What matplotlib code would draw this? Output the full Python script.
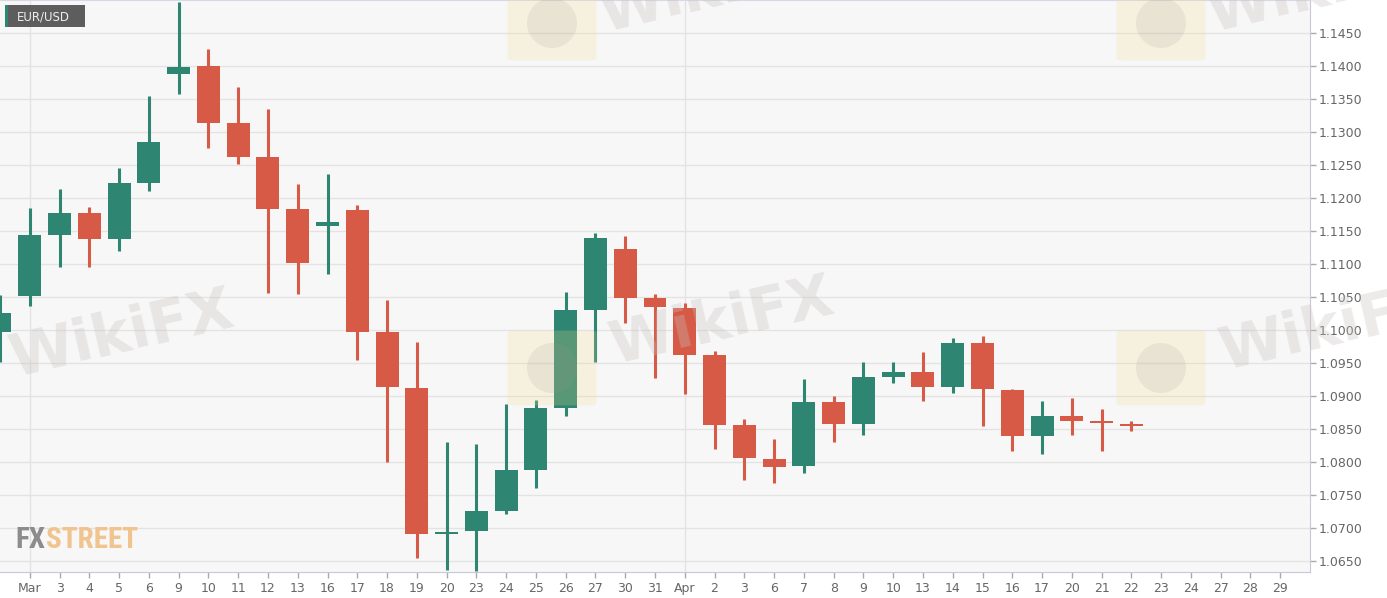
import matplotlib
matplotlib.use("Agg")
import matplotlib.pyplot as plt
from matplotlib.patches import FancyBboxPatch, Rectangle, Ellipse

# EUR/USD daily candles, 28 Feb - 22 Apr
day_labels = ["", "Mar", "3", "4", "5", "6", "9", "10", "11", "12", "13", "16", "17", "18",
              "19", "20", "23", "24", "25", "26", "27", "30", "31", "Apr", "2", "3", "6",
              "7", "8", "9", "10", "13", "14", "15", "16", "17", "20", "21", "22", "23",
              "24", "27", "28", "29"]
opens = [1.0997, 1.1052, 1.1144, 1.1177, 1.1138, 1.1223, 1.1388, 1.1400, 1.1314, 1.1262,
         1.1183, 1.1158, 1.1182, 1.0997, 1.0912, 1.0690, 1.0695, 1.0726, 1.0787, 1.0882,
         1.1030, 1.1122, 1.1048, 1.1033, 1.0962, 1.0856, 1.0805, 1.0793, 1.0890, 1.0858,
         1.0929, 1.0936, 1.0913, 1.0980, 1.0909, 1.0839, 1.0869, 1.0861, 1.0857]
highs = [1.1053, 1.1184, 1.1213, 1.1187, 1.1245, 1.1355, 1.1497, 1.1425, 1.1368, 1.1335,
         1.1221, 1.1237, 1.1189, 1.1045, 1.0981, 1.0830, 1.0827, 1.0887, 1.0894, 1.1058,
         1.1147, 1.1143, 1.1054, 1.1040, 1.0968, 1.0865, 1.0834, 1.0925, 1.0900, 1.0951,
         1.0951, 1.0967, 1.0987, 1.0991, 1.0910, 1.0892, 1.0896, 1.0880, 1.0862]
lows = [1.0952, 1.1036, 1.1095, 1.1095, 1.1119, 1.1211, 1.1357, 1.1276, 1.1251, 1.1056,
        1.1054, 1.1084, 1.0954, 1.0800, 1.0654, 1.0636, 1.0635, 1.0721, 1.0760, 1.0869,
        1.0952, 1.1010, 1.0927, 1.0903, 1.0819, 1.0772, 1.0768, 1.0783, 1.0830, 1.0840,
        1.0919, 1.0892, 1.0904, 1.0855, 1.0816, 1.0812, 1.0841, 1.0817, 1.0847]
closes = [1.1026, 1.1144, 1.1177, 1.1138, 1.1223, 1.1285, 1.1399, 1.1314, 1.1262, 1.1183,
          1.1102, 1.1164, 1.0997, 1.0913, 1.0691, 1.0694, 1.0726, 1.0787, 1.0881, 1.1030,
          1.1140, 1.1049, 1.1034, 1.0962, 1.0856, 1.0806, 1.0792, 1.0891, 1.0858, 1.0928,
          1.0936, 1.0913, 1.0980, 1.0910, 1.0839, 1.0869, 1.0862, 1.0859, 1.0855]
y_ticks = [1.0650, 1.0700, 1.0750, 1.0800, 1.0850, 1.0900, 1.0950, 1.1000,
           1.1050, 1.1100, 1.1150, 1.1200, 1.1250, 1.1300, 1.1350, 1.1400, 1.1450]

UP = "#2e8571"
DOWN = "#d65a45"
W, H = 1387, 598

fig = plt.figure(figsize=(W / 100, H / 100), dpi=100, facecolor="white")
ax = fig.add_axes([0, 26 / H, 1310 / W, 1 - 26 / H])
ax.set_facecolor("#f7f7f7")

for y in y_ticks:
    ax.axhline(y, color="#e3e3e3", lw=1.0, zorder=1)
for i, lab in enumerate(day_labels):
    if lab in ("Mar", "Apr"):
        ax.axvline(i, color="#e3e3e3", lw=1.0, zorder=1)

for i in range(len(opens)):
    o, h, l, c = opens[i], highs[i], lows[i], closes[i]
    col = UP if c >= o else DOWN
    ax.vlines(i, l, h, color=col, lw=2.2, zorder=3)
    body = max(abs(c - o), 0.00022)
    ax.bar(i, body, bottom=min(o, c), width=0.77, color=col, zorder=4, linewidth=0)

ax.set_xlim(0, 44)
ax.set_ylim(1.0633, 1.1500)
ax.set_xticks(range(1, len(day_labels)))
ax.set_xticklabels(day_labels[1:])
ax.yaxis.tick_right()
ax.set_yticks(y_ticks)
ax.set_yticklabels([f"{v:.4f}" for v in y_ticks])
ax.tick_params(axis="both", colors="#aaaaaa", labelcolor="#666666", labelsize=9, length=4, width=1)
ax.tick_params(axis="x", pad=3)
ax.tick_params(axis="y", pad=2)
ax.spines["left"].set_visible(False)
ax.spines["top"].set_color("#d8d8e6")
ax.spines["right"].set_color("#c8c8d8")
ax.spines["bottom"].set_color("#c8c8d8")

# watermarks drawn faintly over the plot
for lx, ly in [(513, 333), (1122, 333), (513, -12), (1122, -12)]:
    fig.patches.append(FancyBboxPatch((lx / W, 1 - (ly + 70) / H), 78 / W, 70 / H,
                                      boxstyle="round,pad=0.004", transform=fig.transFigure,
                                      facecolor="#f3dc8a", edgecolor="none", alpha=0.22, zorder=8))
    fig.patches.append(Ellipse(((lx + 39) / W, 1 - (ly + 35) / H), 50 / W, 50 / H,
                               transform=fig.transFigure, facecolor="#9a9494",
                               edgecolor="none", alpha=0.15, zorder=8))
for cx, cy in [(122, 335), (722, 322), (1332, 328), (712, -10), (1320, -10)]:
    fig.text(cx / W, 1 - cy / H, "WikiFX", fontsize=42, fontweight="bold", color="#c9c0c0",
             alpha=0.33, rotation=13, ha="center", va="center", zorder=8)

# EUR/USD tag
fig.patches.append(Rectangle((5 / W, 1 - 27 / H), 80 / W, 22 / H, transform=fig.transFigure,
                             facecolor="#555555", edgecolor="none", alpha=0.95, zorder=9))
fig.patches.append(Rectangle((5 / W, 1 - 27 / H), 2.5 / W, 22 / H, transform=fig.transFigure,
                             facecolor=UP, edgecolor="none", zorder=10))
fig.text(17 / W, 1 - 16.5 / H, "EUR/USD", fontsize=8.5, color="#eeeeee", ha="left", va="center", zorder=11)

# FXSTREET logo
logo_fonts = ["Roboto Condensed", "DejaVu Sans Condensed", "Liberation Sans Narrow", "DejaVu Sans"]
fx = fig.text(15 / W, 1 - 540 / H, "FX", fontsize=21, fontweight="bold", color="#8c8c8c",
              family=logo_fonts, fontstretch="condensed", ha="left", va="center", zorder=11)
fig.canvas.draw()
bb = fx.get_window_extent()
fig.text((bb.x1 + 1) / W, 1 - 540 / H, "STREET", fontsize=21, fontweight="bold", color="#f0c48e",
         family=logo_fonts, fontstretch="condensed", ha="left", va="center", zorder=11)

fig.savefig("out.png", dpi=100, facecolor="white")
